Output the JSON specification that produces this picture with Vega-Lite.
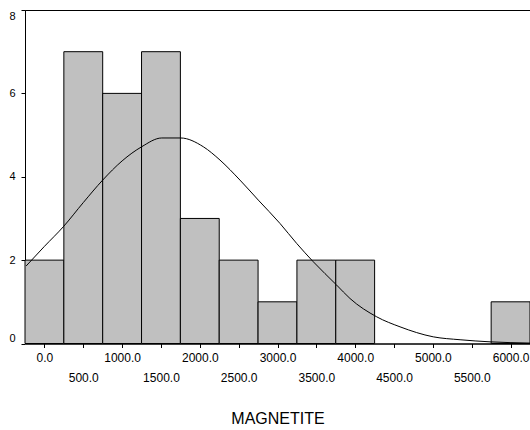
{
  "$schema": "https://vega.github.io/schema/vega-lite/v6.json",
  "width": 505,
  "height": 333.5,
  "autosize": "none",
  "padding": {"left": 25, "top": 10, "right": 0, "bottom": 86.5},
  "background": "white",
  "config": {
    "view": {"stroke": "black", "strokeWidth": 1},
    "font": "Liberation Sans",
    "axis": {
      "grid": false,
      "domainColor": "black",
      "tickColor": "black",
      "labelColor": "black",
      "titleColor": "black",
      "labelFont": "Liberation Sans",
      "titleFont": "Liberation Sans",
      "labelFontSize": 11,
      "titleFontSize": 16,
      "titleFontWeight": "normal",
      "tickSize": 4
    }
  },
  "datasets": {
    "bins": [
      {"start": -250, "end": 250, "count": 2},
      {"start": 250, "end": 750, "count": 7},
      {"start": 750, "end": 1250, "count": 6},
      {"start": 1250, "end": 1750, "count": 7},
      {"start": 1750, "end": 2250, "count": 3},
      {"start": 2250, "end": 2750, "count": 2},
      {"start": 2750, "end": 3250, "count": 1},
      {"start": 3250, "end": 3750, "count": 2},
      {"start": 3750, "end": 4250, "count": 2},
      {"start": 5750, "end": 6250, "count": 1}
    ],
    "curve": [
      {"x": -235, "y": 1.86},
      {"x": 0, "y": 2.33},
      {"x": 243, "y": 2.8},
      {"x": 500, "y": 3.38},
      {"x": 750, "y": 3.92},
      {"x": 1000, "y": 4.38},
      {"x": 1252, "y": 4.72},
      {"x": 1510, "y": 4.93},
      {"x": 1754, "y": 4.93},
      {"x": 2045, "y": 4.72},
      {"x": 2260, "y": 4.4},
      {"x": 2517, "y": 3.92},
      {"x": 2753, "y": 3.44},
      {"x": 3032, "y": 2.88},
      {"x": 3247, "y": 2.4},
      {"x": 3461, "y": 1.96},
      {"x": 3762, "y": 1.4},
      {"x": 3933, "y": 1.08},
      {"x": 4277, "y": 0.64},
      {"x": 4577, "y": 0.4},
      {"x": 5005, "y": 0.16},
      {"x": 5350, "y": 0.09},
      {"x": 5737, "y": 0.04},
      {"x": 6250, "y": 0.01}
    ]
  },
  "layer": [
    {
      "data": {"name": "bins"},
      "mark": {"type": "bar", "fill": "#c0c0c0", "stroke": "black", "strokeWidth": 1, "orient": "vertical"},
      "encoding": {
        "x": {
          "field": "start",
          "type": "quantitative",
          "scale": {"domain": [-250, 6250], "nice": false, "zero": false, "padding": 0},
          "axis": {
            "title": "MAGNETITE",
            "values": [0, 500, 1000, 1500, 2000, 2500, 3000, 3500, 4000, 4500, 5000, 5500, 6000],
            "labelExpr": "datum.value % 1000 == 0 ? format(datum.value, '.1f') : ['', format(datum.value, '.1f')]",
            "labelFontSize": 12,
            "labelLineHeight": 20,
            "labelBaseline": "top",
            "labelOverlap": false,
            "labelFlush": false,
            "labelPadding": 5,
            "titlePadding": 27
          }
        },
        "x2": {"field": "end"},
        "y": {
          "field": "count",
          "type": "quantitative",
          "scale": {"domain": [0, 8], "nice": false},
          "axis": {"title": null, "values": [0, 2, 4, 6, 8], "labelPadding": 6, "labelFlush": true}
        },
        "y2": {"datum": 0}
      }
    },
    {
      "data": {"name": "curve"},
      "mark": {"type": "line", "color": "black", "strokeWidth": 1, "interpolate": "monotone"},
      "encoding": {
        "x": {"field": "x", "type": "quantitative"},
        "y": {"field": "y", "type": "quantitative"}
      }
    }
  ]
}
